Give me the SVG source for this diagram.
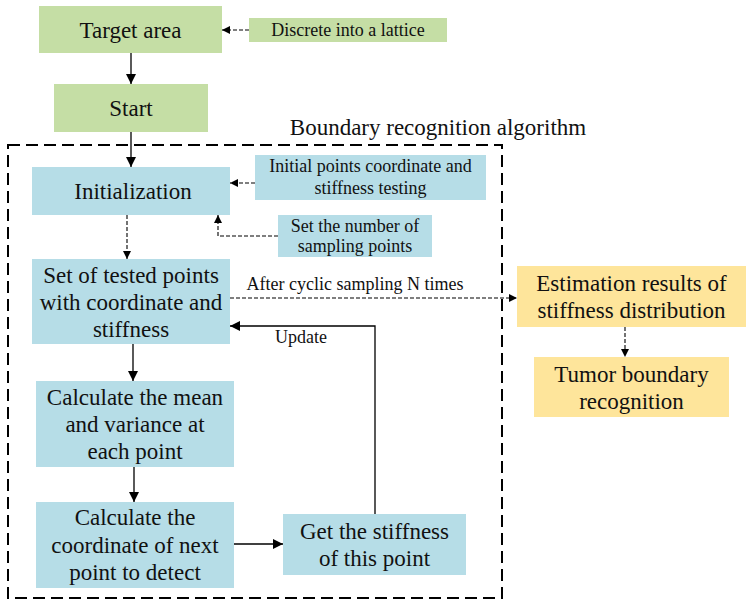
<svg xmlns="http://www.w3.org/2000/svg" width="749" height="602" viewBox="0 0 749 602">
  <defs>
    <marker id="arrow" viewBox="0 0 10 10" refX="10" refY="5" markerWidth="10" markerHeight="10" markerUnits="userSpaceOnUse" orient="auto">
      <path d="M0,0 L10,5 L0,10 z" fill="#000"/>
    </marker>
    <marker id="arrow-sm" viewBox="0 0 10 10" refX="10" refY="5" markerWidth="8" markerHeight="8" markerUnits="userSpaceOnUse" orient="auto">
      <path d="M0,0 L10,5 L0,10 z" fill="#000"/>
    </marker>
  </defs>
  <style>
    .green { fill: #c5dea5; }
    .blue { fill: #b6dde7; }
    .gold { fill: #fee59b; }
    text { font-family: "Liberation Serif", "Times New Roman", serif; fill: #111; text-anchor: middle; }
    .big { font-size: 23px; }
    .small { font-size: 18px; }
    .solid { fill: none; stroke: #000; stroke-width: 1.3; }
    .dash { fill: none; stroke: #000; stroke-width: 1.1; stroke-dasharray: 4 2; }
    .frame { fill: none; stroke: #000; stroke-width: 2; stroke-dasharray: 12 6; }
  </style>

  <!-- algorithm frame -->
  <g id="frame">
    <rect class="frame" x="8" y="145" width="494" height="453"/>
    <text class="big" x="438" y="135">Boundary recognition algorithm</text>
  </g>

  <g id="target-area">
    <rect class="green" x="39" y="6" width="183" height="47"/>
    <text class="big" x="130.5" y="38">Target area</text>
  </g>
  <g id="discrete">
    <rect class="green" x="249" y="18" width="198" height="24"/>
    <text class="small" x="348" y="36">Discrete into a lattice</text>
  </g>
  <g id="start">
    <rect class="green" x="54" y="84" width="154" height="48"/>
    <text class="big" x="131" y="116">Start</text>
  </g>
  <g id="initialization">
    <rect class="blue" x="32" y="167" width="198" height="48"/>
    <text class="big" x="133" y="199">Initialization</text>
  </g>
  <g id="initial-points">
    <rect class="blue" x="255" y="155" width="231" height="45"/>
    <text class="small" x="370.5" y="172">Initial points coordinate and</text>
    <text class="small" x="370.5" y="194">stiffness testing</text>
  </g>
  <g id="sampling-number">
    <rect class="blue" x="278" y="215" width="154" height="42"/>
    <text class="small" x="355" y="232">Set the number of</text>
    <text class="small" x="355" y="252">sampling points</text>
  </g>
  <g id="tested-points">
    <rect class="blue" x="32" y="259" width="198" height="85"/>
    <text class="big" x="131" y="283">Set of tested points</text>
    <text class="big" x="131" y="310">with coordinate and</text>
    <text class="big" x="131" y="337">stiffness</text>
  </g>
  <g id="mean-variance">
    <rect class="blue" x="36" y="381" width="198" height="86"/>
    <text class="big" x="135" y="405">Calculate the mean</text>
    <text class="big" x="135" y="432">and variance at</text>
    <text class="big" x="135" y="459">each point</text>
  </g>
  <g id="next-point">
    <rect class="blue" x="36" y="502" width="198" height="86"/>
    <text class="big" x="135" y="525">Calculate the</text>
    <text class="big" x="135" y="553">coordinate of next</text>
    <text class="big" x="135" y="580">point to detect</text>
  </g>
  <g id="get-stiffness">
    <rect class="blue" x="283" y="514" width="183" height="61"/>
    <text class="big" x="374.5" y="539">Get the stiffness</text>
    <text class="big" x="374.5" y="566">of this point</text>
  </g>
  <g id="estimation">
    <rect class="gold" x="517" y="266" width="229" height="61"/>
    <text class="big" x="631.5" y="291">Estimation results of</text>
    <text class="big" x="631.5" y="318">stiffness distribution</text>
  </g>
  <g id="tumor-boundary">
    <rect class="gold" x="534" y="357" width="195" height="60"/>
    <text class="big" x="631.5" y="382">Tumor boundary</text>
    <text class="big" x="631.5" y="409">recognition</text>
  </g>

  <!-- connectors -->
  <g id="connectors">
    <line class="solid" x1="131" y1="53" x2="131" y2="84" marker-end="url(#arrow)"/>
    <line class="dash" x1="249" y1="30" x2="222" y2="30" marker-end="url(#arrow-sm)"/>
    <line class="solid" x1="131" y1="132" x2="131" y2="167" marker-end="url(#arrow)"/>
    <line class="dash" x1="255" y1="183" x2="230" y2="183" marker-end="url(#arrow-sm)"/>
    <polyline class="dash" points="278,236 218,236 218,215" marker-end="url(#arrow-sm)"/>
    <line class="dash" x1="127" y1="215" x2="127" y2="259" marker-end="url(#arrow-sm)"/>
    <line class="dash" x1="230" y1="298" x2="517" y2="298" marker-end="url(#arrow-sm)"/>
    <text class="small" x="355" y="290">After cyclic sampling N times</text>
    <line class="dash" x1="625" y1="327" x2="625" y2="357" marker-end="url(#arrow-sm)"/>
    <line class="solid" x1="133" y1="344" x2="133" y2="381" marker-end="url(#arrow)"/>
    <line class="solid" x1="134" y1="467" x2="134" y2="502" marker-end="url(#arrow)"/>
    <line class="solid" x1="234" y1="544" x2="283" y2="544" marker-end="url(#arrow)"/>
    <polyline class="solid" points="375,514 375,326 230,326" marker-end="url(#arrow)"/>
    <text class="small" x="301" y="343">Update</text>
  </g>
</svg>
